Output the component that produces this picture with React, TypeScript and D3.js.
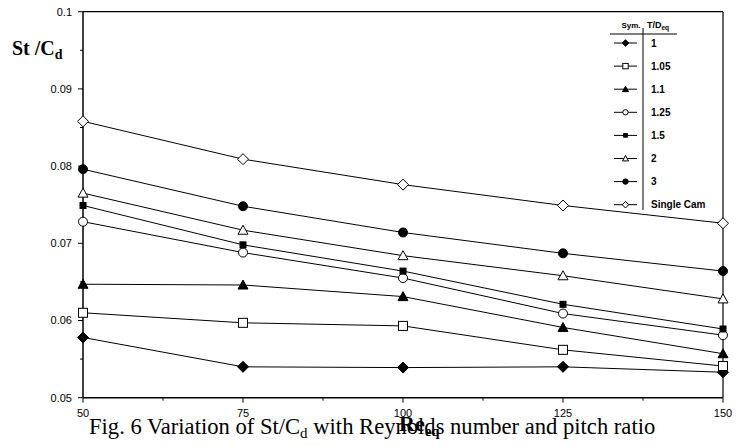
import React from "react";
import * as d3 from "d3";

const reynolds = [50, 75, 100, 125, 150];
const pitchLabels = ["1", "1.05", "1.1", "1.25", "1.5", "2", "3", "Single Cam"];
const s1 = [0.0578, 0.054, 0.0539, 0.054, 0.0533];
const s105 = [0.061, 0.0597, 0.0593, 0.0562, 0.0541];
const s11 = [0.0647, 0.0646, 0.0631, 0.0591, 0.0557];
const s125 = [0.0728, 0.0688, 0.0655, 0.0609, 0.0581];
const s15 = [0.0749, 0.0698, 0.0664, 0.0621, 0.0589];
const s2 = [0.0765, 0.0717, 0.0684, 0.0658, 0.0628];
const s3 = [0.0796, 0.0748, 0.0714, 0.0687, 0.0664];
const sSingle = [0.0858, 0.0809, 0.0776, 0.0749, 0.0726];
const seriesValues = [s1, s105, s11, s125, s15, s2, s3, sSingle];
const markerKinds = ["diamondF", "squareO", "triF", "circleO", "squareSmallF", "triO", "circleF", "diamondO"];
const xTicks = [50, 75, 100, 125, 150];
const yTicks = [0.05, 0.06, 0.07, 0.08, 0.09, 0.1];
const yTickLabels = ["0.05", "0.06", "0.07", "0.08", "0.09", "0.1"];

function Marker({ kind, cx, cy, k }: { kind: string; cx: number; cy: number; k: number }) {
  const filled = kind.endsWith("F");
  const fill = filled ? "#000" : "#fff";
  const common = { fill, stroke: "#000", strokeWidth: 1 };
  if (kind.startsWith("diamond")) {
    const r = 5.5 * k;
    return <path d={`M${cx},${cy - r}L${cx + r},${cy}L${cx},${cy + r}L${cx - r},${cy}Z`} {...common} />;
  }
  if (kind === "squareSmallF") {
    const h = 3 * k;
    return <rect x={cx - h} y={cy - h} width={2 * h} height={2 * h} {...common} />;
  }
  if (kind.startsWith("square")) {
    const h = 4.5 * k;
    return <rect x={cx - h} y={cy - h} width={2 * h} height={2 * h} {...common} />;
  }
  if (kind.startsWith("tri")) {
    const w = 5 * k;
    const h = 9 * k;
    return <path d={`M${cx},${cy - h * 0.55}L${cx + w},${cy + h * 0.45}L${cx - w},${cy + h * 0.45}Z`} {...common} />;
  }
  return <circle cx={cx} cy={cy} r={4.5 * k} {...common} />;
}

export default function App() {
  const x = d3.scaleLinear().domain([50, 150]).range([83, 723]);
  const y = d3.scaleLinear().domain([0.05, 0.1]).range([397.7, 11.7]);
  const line = d3
    .line<number>()
    .x((_, i) => x(reynolds[i]))
    .y((v) => y(v));
  const minorX = d3.range(50, 150.1, 12.5);
  const minorY = d3.range(0.055, 0.1, 0.01);
  const legRow = (i: number) => 43 + 23.1 * i;
  const sans = "'Liberation Sans', Arial, sans-serif";
  const serif = "'Liberation Serif', 'Times New Roman', serif";
  return (
    <div style={{ position: "absolute", left: 0, top: 0 }}>
      <svg width={745} height={446} style={{ display: "block", background: "#fff" }}>
        <rect x={0} y={0} width={745} height={446} fill="#fff" />
        {/* frame */}
        <line x1={x(50)} x2={x(150)} y1={y(0.1)} y2={y(0.1)} stroke="#000" strokeWidth={1.2} />
        <line x1={x(150)} x2={x(150)} y1={y(0.1)} y2={y(0.05)} stroke="#000" strokeWidth={1.2} />
        <line x1={x(50)} x2={x(50)} y1={y(0.1)} y2={y(0.05)} stroke="#000" strokeWidth={1.5} />
        <line x1={x(50)} x2={x(150)} y1={y(0.05)} y2={y(0.05)} stroke="#000" strokeWidth={1.5} />
        {/* x ticks */}
        {minorX.map((t) => (
          <line key={"mx" + t} x1={x(t)} x2={x(t)} y1={y(0.05)} y2={y(0.05) + (xTicks.includes(t) ? 5 : 3)} stroke="#000" strokeWidth={1} />
        ))}
        {xTicks.map((t) => (
          <text key={"xt" + t} x={x(t)} y={417} textAnchor="middle" fontFamily={sans} fontSize={11} fill="#000">
            {t}
          </text>
        ))}
        {/* y ticks */}
        {minorY.map((t) => (
          <line key={"my" + t} x1={x(50) - 3} x2={x(50)} y1={y(t)} y2={y(t)} stroke="#000" strokeWidth={1} />
        ))}
        {yTicks.map((t, i) => (
          <g key={"yt" + t}>
            <line x1={x(50) - 5} x2={x(50)} y1={y(t)} y2={y(t)} stroke="#000" strokeWidth={1} />
            <text x={72} y={y(t)} dy="0.35em" textAnchor="end" fontFamily={sans} fontSize={11} fill="#000">
              {yTickLabels[i]}
            </text>
          </g>
        ))}
        {/* series */}
        {seriesValues.map((vals, si) => (
          <g key={"s" + si}>
            <path d={line(vals) || ""} fill="none" stroke="#000" strokeWidth={1} />
            {vals.map((v, i) => (
              <Marker key={i} kind={markerKinds[si]} cx={x(reynolds[i])} cy={y(v)} k={1} />
            ))}
          </g>
        ))}
        {/* legend */}
        <text x={631} y={28} textAnchor="middle" fontFamily={sans} fontSize={8} fontWeight="bold">
          Sym.
        </text>
        <text x={647} y={28} fontFamily={sans} fontSize={9} fontWeight="bold">
          T/D<tspan fontSize={6.5} dy={2}>eq</tspan>
        </text>
        <line x1={610} x2={677} y1={34} y2={34} stroke="#000" strokeWidth={1} />
        <line x1={643} x2={643} y1={28} y2={210} stroke="#000" strokeWidth={1} />
        {pitchLabels.map((lab, i) => (
          <g key={"lg" + i}>
            <line x1={614} x2={637} y1={legRow(i)} y2={legRow(i)} stroke="#000" strokeWidth={1} />
            <Marker kind={markerKinds[i]} cx={625.5} cy={legRow(i)} k={0.6} />
            <text x={651} y={legRow(i)} dy="0.35em" fontFamily={sans} fontSize={10} fontWeight="bold">
              {lab}
            </text>
          </g>
        ))}
        {/* y axis title */}
        <text x={12} y={55} fontFamily={serif} fontSize={20} fontWeight="bold">
          St /C<tspan fontSize={14} dy={4}>d</tspan>
        </text>
        {/* caption */}
        <text x={89} y={434} fontFamily={serif} fontSize={22.6} fill="#000">
          Fig. 6 Variation of St/C<tspan fontSize={15} dy={4}>d</tspan>
          <tspan dy={-4}> with Reynolds number and pitch ratio</tspan>
        </text>
        {/* x axis title */}
        <text x={399} y={431} fontFamily={serif} fontSize={22} fontWeight="bold">
          Re<tspan fontSize={15} dy={5}>eq</tspan>
        </text>
      </svg>
    </div>
  );
}
